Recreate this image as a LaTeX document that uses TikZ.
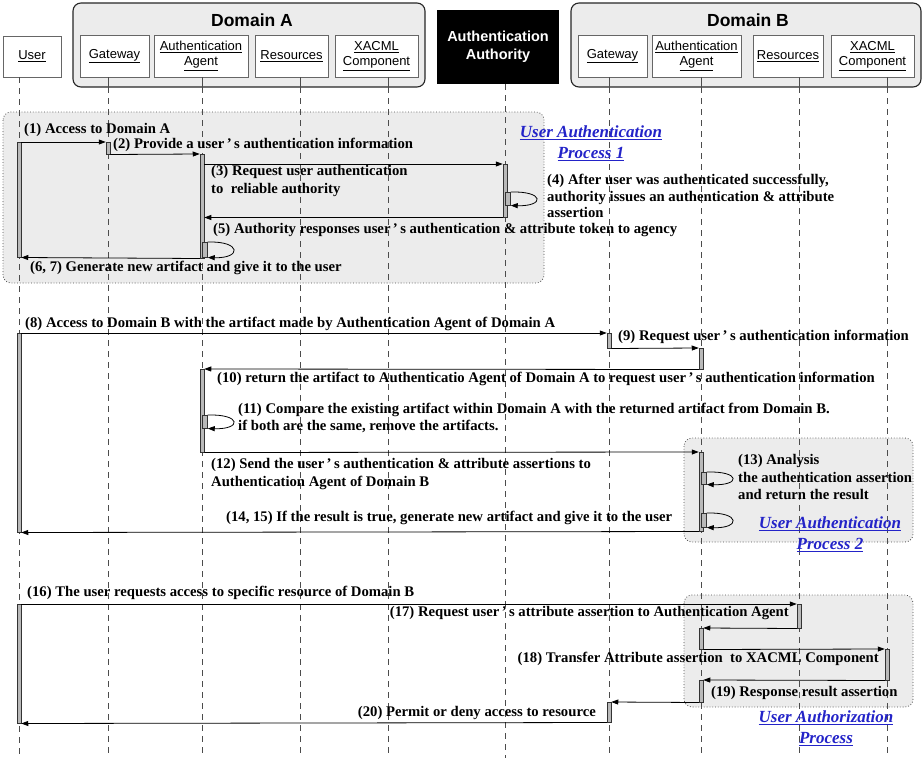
\documentclass[tikz,border=0pt]{standalone}
\usepackage{fontspec}
\setmainfont{Liberation Serif}
\newfontfamily\hdfont{Liberation Sans}
\usepackage{tikz}
\usetikzlibrary{arrows.meta}
\definecolor{linkblue}{RGB}{35,35,200}

\begin{document}
\begin{tikzpicture}[x=1pt,y=-1pt,
    dombox/.style={draw=black!85,line width=1.1pt,fill=gray!15,rounded corners=8pt},
    part/.style={draw=black!60,fill=white,line width=0.7pt,font=\hdfont\fontsize{13}{15}\selectfont,align=center,inner sep=0pt,minimum height=42pt},
    dtitle/.style={font=\hdfont\bfseries\fontsize{17.5}{20}\selectfont,inner sep=0pt},
    group/.style={draw=black!70,dotted,line width=0.8pt,fill=gray!15,rounded corners=8pt},
    life/.style={draw=black!70,line width=0.8pt,dash pattern=on 6pt off 5pt},
    bar/.style={draw=black!80,fill=gray!55,line width=0.5pt,minimum width=4pt,inner sep=0pt,anchor=north},
    msg/.style={line width=0.8pt,-{Triangle[length=7pt,width=5pt]}},
    lbl/.style={font=\bfseries\fontsize{14.7}{17.5}\selectfont,inner sep=0pt,align=left},
    ptitle/.style={font=\bfseries\itshape\fontsize{17}{21}\selectfont,text=linkblue,align=center,inner sep=0pt}]
  \useasboundingbox (0,0) rectangle (922,758);

  % participants
  \draw[dombox] (73,3) rectangle (425,87);
  \draw[dombox] (571,3) rectangle (921,87);
  \node[dtitle] (domA) at (252,20) {Domain A};
  \node[dtitle] (domB) at (748,20) {Domain B};
  \node[part,minimum width=58pt,minimum height=41pt] (user) at (32,56.5) {\underline{User}};
  \node[part,minimum width=69pt] (gwA) at (114.5,56) {\underline{Gateway}};
  \node[part,minimum width=94pt] (agA) at (201,56) {\underline{Authentication}\\\underline{Agent}};
  \node[part,minimum width=73pt] (resA) at (291.5,56) {\underline{Resources}};
  \node[part,minimum width=83pt] (xaA) at (376.5,56) {\underline{XACML}\\\underline{Component}};
  \node[fill=black,text=white,font=\hdfont\bfseries\fontsize{14.5}{18}\selectfont,align=center,minimum width=122pt,minimum height=74pt,inner sep=0pt] (auth) at (498,47) {Authentication\\Authority};
  \node[part,minimum width=69pt] (gwB) at (612.5,56) {\underline{Gateway}};
  \node[part,minimum width=89pt] (agB) at (696.5,56) {\underline{Authentication}\\\underline{Agent}};
  \node[part,minimum width=70pt] (resB) at (788,56) {\underline{Resources}};
  \node[part,minimum width=83pt] (xaB) at (872.5,56) {\underline{XACML}\\\underline{Component}};

  % process groups
  \draw[group] (3,112) rectangle (544,283);
  \draw[group] (684,438) rectangle (913,542);
  \draw[group] (684,595) rectangle (913,707);

  % lifelines
  \foreach \x in {108,202,300,388,609,701,799,887}
    \draw[black!70,line width=0.8pt] (\x,77) -- (\x,87);
  \foreach \x/\top in {19/77,108/87,202/87,300/87,388/87,505/84,609/87,701/87,799/87,887/87}
    \draw[life] (\x,\top) -- (\x,758);

  % activation bars
  \node[bar,minimum height=115pt] (u1) at (19,142) {};
  \node[bar,minimum height=12pt] (g1) at (108,142) {};
  \node[bar,minimum height=104pt] (a1) at (202,154) {};
  \node[bar,minimum height=53pt] (au1) at (505,164) {};
  \node[bar,minimum width=5pt,minimum height=13pt] (l4) at (508,192) {};
  \node[bar,minimum width=5pt,minimum height=15pt] (lA1) at (205,242) {};
  \node[bar,minimum height=199pt] (u2) at (19,333) {};
  \node[bar,minimum height=15pt] (gB1) at (609,333) {};
  \node[bar,minimum height=21pt] (aB1) at (701,348) {};
  \node[bar,minimum height=83pt] (a2) at (202,369) {};
  \node[bar,minimum width=5pt,minimum height=13pt] (lA2) at (205,415) {};
  \node[bar,minimum height=79pt] (aB2) at (701,452) {};
  \node[bar,minimum width=5pt,minimum height=12pt] (lB1) at (704,472) {};
  \node[bar,minimum width=5pt,minimum height=14pt] (lB2) at (704,513) {};
  \node[bar,minimum height=119pt] (u3) at (19,604) {};
  \node[bar,minimum height=24pt] (rB1) at (799,604) {};
  \node[bar,minimum height=21pt] (aB3) at (701,628) {};
  \node[bar,minimum height=31pt] (xB1) at (887,649) {};
  \node[bar,minimum height=22pt] (aB4) at (701,680) {};
  \node[bar,minimum height=20pt] (gB2) at (609,702) {};

  % messages
  \draw[msg] (u1.north east) -- (g1.north west);
  \draw[msg] (g1.south east) -- (a1.north west);
  \draw[msg] (a1.east |- au1.north) -- (au1.north west);
  \draw[msg] (l4.north east) .. controls +(34,-1) and +(34,1) .. (l4.south east);
  \draw[msg] (au1.south west) -- (a1.east |- au1.south);
  \draw[msg] (lA1.north east) .. controls +(34,-1) and +(34,1) .. (lA1.south east);
  \draw[msg] (a1.south west) -- (u1.south east);
  \draw[msg] (u2.north east) -- (gB1.north west);
  \draw[msg] (gB1.south east) -- (aB1.north west);
  \draw[msg] (aB1.south west) -- (a2.north east);
  \draw[msg] (lA2.north east) .. controls +(34,-1) and +(34,1) .. (lA2.south east);
  \draw[msg] (a2.south east) -- (aB2.north west);
  \draw[msg] (lB1.north east) .. controls +(34,-1) and +(34,1) .. (lB1.south east);
  \draw[msg] (lB2.north east) .. controls +(34,-1) and +(34,1) .. (lB2.south east);
  \draw[msg] (aB2.south west) -- (u2.south east);
  \draw[msg] (u3.north east) -- (rB1.north west);
  \draw[msg] (rB1.south west) -- (aB3.north east);
  \draw[msg] (aB3.south east) -- (xB1.north west);
  \draw[msg] (xB1.south west) -- (aB4.north east);
  \draw[msg] (aB4.south west) -- (gB2.north east);
  \draw[msg] (gB2.south west) -- (u3.south east);

  % labels
  \node[lbl,anchor=west] (m1) at (24,130) {(1) Access to Domain A};
  \node[lbl,anchor=west] (m2) at (113,145) {(2) Provide a user\,'\,s authentication information};
  \node[lbl,anchor=west] (m3) at (211,181) {(3) Request user authentication\\to\ \ reliable authority};
  \node[lbl,anchor=west,font=\bfseries\fontsize{14.7}{16.8}\selectfont] (m4) at (547,196) {(4) After user was authenticated successfully,\\authority issues an authentication \& attribute\\assertion};
  \node[lbl,anchor=west] (m5) at (213,230) {(5) Authority responses user\,'\,s authentication \& attribute token to agency};
  \node[lbl,anchor=west] (m67) at (30,268) {(6, 7) Generate new artifact and give it to the user};
  \node[lbl,anchor=west] (m8) at (25,324) {(8) Access to Domain B with the artifact made by Authentication Agent of Domain A};
  \node[lbl,anchor=west] (m9) at (618,337) {(9) Request user\,'\,s authentication information};
  \node[lbl,anchor=west] (m10) at (217,379) {(10) return the artifact to Authenticatio Agent of Domain A to request user\,'\,s authentication information};
  \node[lbl,anchor=west] (m11) at (238,418) {(11) Compare the existing artifact within Domain A with the returned artifact from Domain B.\\if both are the same, remove the artifacts.};
  \node[lbl,anchor=west] (m12) at (211,474) {(12) Send the user\,'\,s authentication \& attribute assertions to\\Authentication Agent of Domain B};
  \node[lbl,anchor=west] (m13) at (738,477) {(13) Analysis\\the authentication assertion\\and return the result};
  \node[lbl,anchor=west] (m1415) at (226,518) {(14, 15) If the result is true, generate new artifact and give it to the user};
  \node[lbl,anchor=west] (m16) at (27,593) {(16) The user requests access to specific resource of Domain B};
  \node[lbl,anchor=east] (m17) at (789,613) {(17) Request user\,'\,s attribute assertion to Authentication Agent};
  \node[lbl,anchor=east] (m18) at (879,659) {(18) Transfer Attribute assertion\ \ to XACML Component};
  \node[lbl,anchor=west] (m19) at (711,693) {(19) Response result assertion};
  \node[lbl,anchor=east] (m20) at (596,713) {(20) Permit or deny access to resource};

  % process titles
  \node[ptitle] (p1) at (591,143) {\underline{User Authentication}\\\underline{Process 1}};
  \node[ptitle] (p2) at (830,534) {\underline{User Authentication}\\\underline{Process 2}};
  \node[ptitle] (p3) at (826,728) {\underline{User Authorization}\\\underline{Process}};
\end{tikzpicture}
\end{document}
